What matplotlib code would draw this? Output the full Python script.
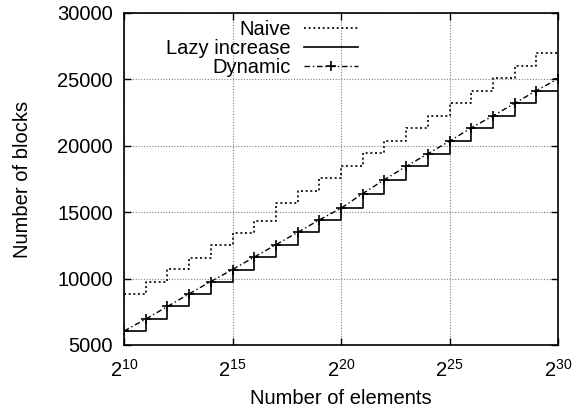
import matplotlib
matplotlib.use("Agg")
import matplotlib.pyplot as plt
import matplotlib.ticker as mticker

plt.rcParams["font.family"] = ["Liberation Sans", "DejaVu Sans"]
plt.rcParams["mathtext.fontset"] = "custom"
plt.rcParams["mathtext.rm"] = "Liberation Sans"
plt.rcParams["mathtext.it"] = "Liberation Sans"
plt.rcParams["mathtext.default"] = "regular"

# ── Data ──────────────────────────────────────────────────────────────────────
exponents = list(range(10, 31))          # number of elements = 2**k

naive_blocks = [8850, 9770, 10700, 11570, 12530, 13420, 14360, 15720, 16600, 17600,
                18500, 19480, 20380, 21320, 22270, 23250, 24130, 25080, 26030, 26960,
                26960]
lazy_blocks = [6050, 6950, 7900, 8850, 9780, 10680, 11620, 12550, 13480, 14420,
               15300, 16400, 17450, 18450, 19400, 20350, 21350, 22250, 23200, 24150,
               24150]
dynamic_blocks = [6050, 6950, 7900, 8850, 9780, 10680, 11620, 12550, 13480, 14420,
                  15300, 16400, 17450, 18450, 19400, 20350, 21350, 22250, 23200, 24150,
                  25050]

xtick_exps = [10, 15, 20, 25, 30]
yticks = [5000, 10000, 15000, 20000, 25000, 30000]

n_elements = [2 ** k for k in exponents]
FS = 14.5

# ── Figure ────────────────────────────────────────────────────────────────────
fig = plt.figure(figsize=(5.73, 4.09), dpi=100)
ax = fig.add_axes([124 / 573, 1 - 345 / 409, 434 / 573, 332 / 409])

ax.step(n_elements, naive_blocks, where="post", color="black", lw=1.2,
        linestyle=(0, (1.2, 1.6)), label="Naive")
ax.step(n_elements, lazy_blocks, where="post", color="black", lw=1.2,
        label="Lazy increase")
ax.plot(n_elements, dynamic_blocks, color="black", lw=1.0,
        linestyle=(0, (4, 2, 1, 2)), marker="+", markersize=7, mew=1.2,
        label="Dynamic")

ax.set_xscale("log", base=2)
ax.set_xlim(2 ** 10, 2 ** 30)
ax.set_ylim(5000, 30000)
ax.xaxis.set_major_locator(mticker.FixedLocator([2 ** k for k in xtick_exps]))
ax.xaxis.set_minor_locator(mticker.NullLocator())
ax.set_xticklabels([f"$2^{{{k}}}$" for k in xtick_exps])
ax.set_yticks(yticks)

ax.tick_params(direction="in", top=True, right=True, length=5, width=1,
               labelsize=FS)
ax.tick_params(axis="y", pad=8)
ax.tick_params(axis="x", pad=10)

ax.grid(True, color="0.5", lw=0.8, linestyle=(0, (1, 1.5)))
for s in ax.spines.values():
    s.set_linewidth(1.2)

ax.set_xlabel("Number of elements", fontsize=FS, labelpad=6)
ax.set_ylabel("Number of blocks", fontsize=FS, labelpad=18)

ax.legend(loc="upper right", bbox_to_anchor=(0.565, 1.012), frameon=False,
          markerfirst=False, fontsize=FS, handlelength=2.7, handletextpad=0.65,
          labelspacing=0.0, borderaxespad=0.15)

fig.savefig("out.png", dpi=100)
